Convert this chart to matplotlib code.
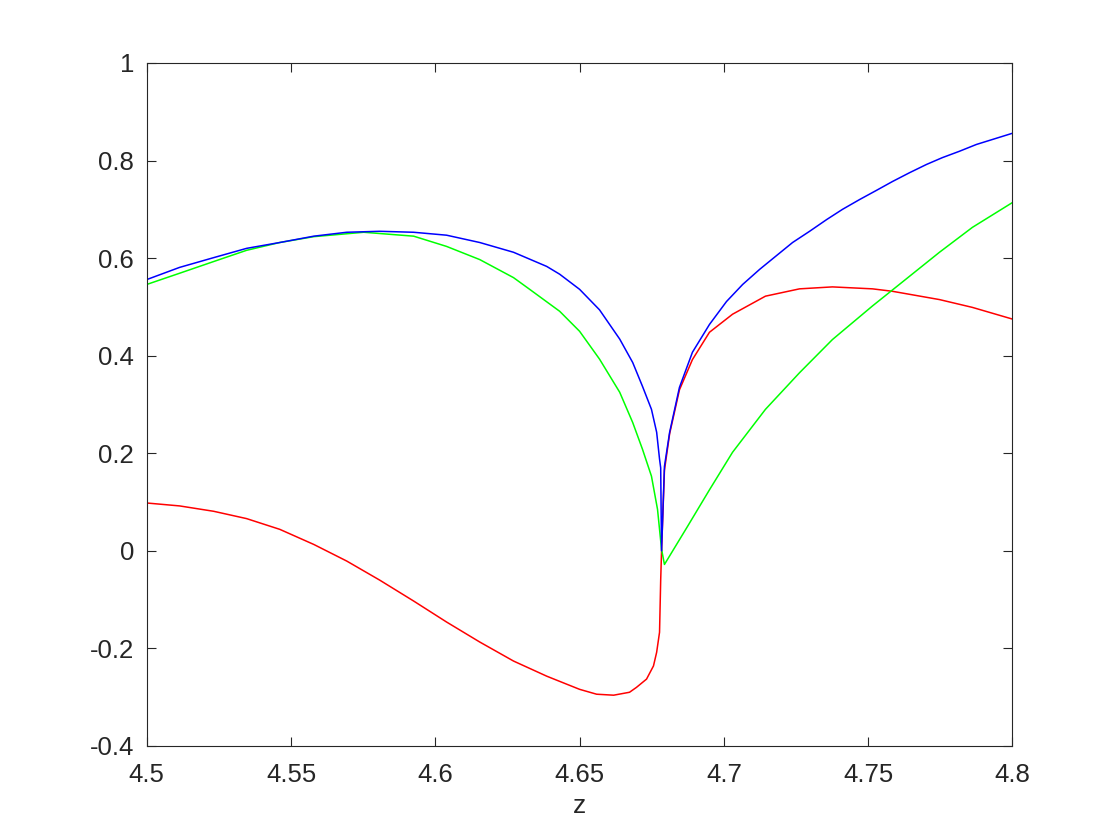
import matplotlib
matplotlib.use('Agg')
import matplotlib.pyplot as plt

plt.rcParams['font.family'] = ['Liberation Sans', 'DejaVu Sans']
plt.rcParams['axes.unicode_minus'] = False

# values
z_blue = [4.5, 4.5114, 4.5232, 4.5346, 4.5461, 4.5579, 4.5693, 4.5807, 4.5925,
          4.6039, 4.6154, 4.6271, 4.6386, 4.6431, 4.6500, 4.6569, 4.6639, 4.6684,
          4.6718, 4.6749, 4.6767, 4.6777, 4.6781, 4.6784, 4.6794, 4.6812, 4.6846,
          4.6891, 4.6950, 4.7009, 4.7065, 4.7124, 4.7182, 4.7238, 4.7297, 4.7356,
          4.7411, 4.7470, 4.7529, 4.7584, 4.7643, 4.7702, 4.7757, 4.7816, 4.7875, 4.8]
blue = [0.556, 0.581, 0.601, 0.620, 0.632, 0.645, 0.653, 0.655, 0.653,
        0.647, 0.632, 0.612, 0.583, 0.567, 0.536, 0.494, 0.434, 0.386,
        0.337, 0.290, 0.243, 0.188, 0.17, 0.0, 0.173, 0.243, 0.335,
        0.407, 0.464, 0.511, 0.546, 0.577, 0.605, 0.632, 0.655, 0.679,
        0.700, 0.720, 0.739, 0.757, 0.775, 0.792, 0.806, 0.819, 0.833, 0.856]

z_green = [4.5, 4.5114, 4.5232, 4.5346, 4.5461, 4.5579, 4.5752, 4.5925, 4.6039,
           4.6154, 4.6271, 4.6327, 4.6431, 4.6500, 4.6569, 4.6639, 4.6684, 4.6718,
           4.6749, 4.6770, 4.6784, 4.6794, 4.6874, 4.6950, 4.7030, 4.7144, 4.7262,
           4.7376, 4.7515, 4.7629, 4.7747, 4.7861, 4.8]
green = [0.546, 0.569, 0.593, 0.616, 0.632, 0.644, 0.653, 0.645, 0.624,
         0.597, 0.560, 0.536, 0.491, 0.450, 0.393, 0.325, 0.263, 0.208,
         0.153, 0.085, 0.003, -0.028, 0.050, 0.125, 0.202, 0.290, 0.365,
         0.433, 0.502, 0.556, 0.612, 0.663, 0.714]

z_red = [4.5, 4.5114, 4.5232, 4.5346, 4.5461, 4.5579, 4.5693, 4.5807, 4.5925,
         4.6039, 4.6154, 4.6271, 4.6386, 4.6445, 4.6500, 4.6559, 4.6618, 4.6673,
         4.6697, 4.6732, 4.6756, 4.6767, 4.6777, 4.6781, 4.6784, 4.6794, 4.6812,
         4.6846, 4.6891, 4.6950, 4.7030, 4.7144, 4.7262, 4.7376, 4.7515, 4.7584,
         4.7747, 4.7861, 4.8]
red = [0.098, 0.092, 0.081, 0.066, 0.044, 0.013, -0.021, -0.060, -0.103,
       -0.146, -0.187, -0.226, -0.257, -0.271, -0.284, -0.294, -0.296, -0.290,
       -0.280, -0.263, -0.236, -0.208, -0.167, -0.06, 0.0, 0.165, 0.24,
       0.33, 0.392, 0.448, 0.485, 0.522, 0.537, 0.541, 0.537, 0.532,
       0.515, 0.499, 0.475]

x_ticks = [4.5, 4.55, 4.6, 4.65, 4.7, 4.75, 4.8]
x_labels = ['4.5', '4.55', '4.6', '4.65', '4.7', '4.75', '4.8']
y_ticks = [-0.4, -0.2, 0, 0.2, 0.4, 0.6, 0.8, 1]
y_labels = ['-0.4', '-0.2', '0', '0.2', '0.4', '0.6', '0.8', '1']

fig = plt.figure(figsize=(11.2, 8.4), dpi=100)
ax = fig.add_axes([0.131, 0.112, 0.773, 0.813])

ax.plot(z_red, red, color=(1, 0, 0), lw=1.1)
ax.plot(z_green, green, color=(0, 1, 0), lw=1.1)
ax.plot(z_blue, blue, color=(0, 0, 1), lw=1.1)

ax.set_xlim(4.5, 4.8)
ax.set_ylim(-0.4, 1)
ax.set_xticks(x_ticks)
ax.set_xticklabels(x_labels)
ax.set_yticks(y_ticks)
ax.set_yticklabels(y_labels)

dark = (0.15, 0.15, 0.15)
ax.tick_params(direction='in', top=True, right=True, length=6.5, width=0.8,
               labelsize=18.5, colors=dark)
ax.tick_params(axis='x', pad=12)
ax.tick_params(axis='y', pad=9)
for s in ax.spines.values():
    s.set_color(dark)
    s.set_linewidth(0.8)

ax.set_xlabel('z', fontsize=19, color=dark, labelpad=5)

fig.savefig('out.png', dpi=100)
